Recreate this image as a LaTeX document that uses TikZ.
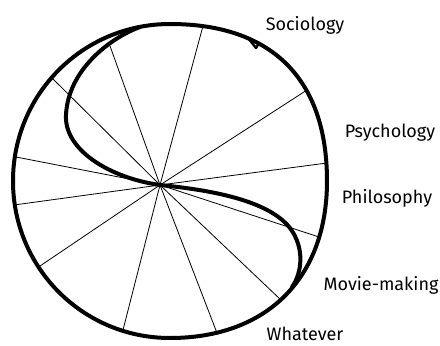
\documentclass[tikz,border=0pt]{standalone}
\usepackage{fontspec}
\setsansfont{Fira Sans}
\tikzset{
  rim/.style={line width=4pt, line join=round, line cap=round},
  spoke/.style={line width=0.8pt},
  subject/.style={font=\sffamily\fontsize{18}{20}\selectfont, anchor=base, inner sep=0pt},
}
\begin{document}
\begin{tikzpicture}[x=1pt, y=-1pt]
  \useasboundingbox (0,0) rectangle (440,346);

  % Centre des rayons
  \coordinate (H) at (160,185);

  % Extrémités des 12 rayons
  \coordinate (S1) at (203,26);
  \coordinate (S2) at (110,46);
  \coordinate (S3) at (52,78);
  \coordinate (S4) at (16,157);
  \coordinate (S5) at (14,205);
  \coordinate (S6) at (40,266);
  \coordinate (S7) at (123,330);
  \coordinate (S8) at (217,333);
  \coordinate (S9) at (281,300);
  \coordinate (S10) at (319,237);
  \coordinate (S11) at (327,163);
  \coordinate (S12) at (307,90);

  % Rayons
  \draw[spoke] (H) -- (S1);
  \draw[spoke] (H) -- (S2);
  \draw[spoke] (H) -- (S3);
  \draw[spoke] (H) -- (S4);
  \draw[spoke] (H) -- (S5);
  \draw[spoke] (H) -- (S6);
  \draw[spoke] (H) -- (S7);
  \draw[spoke] (H) -- (S8);
  \draw[spoke] (H) -- (S9);
  \draw[spoke] (H) -- (S10);
  \draw[spoke] (H) -- (S11);
  \draw[spoke] (H) -- (S12);

  % Contour (cercle à main levée, un peu bombé à droite)
  \draw[rim] (170,24) .. controls (272,24) and (327,79) .. (327,181)
      .. controls (327,278) and (267,338) .. (170,338)
      .. controls (83,338) and (13,268) .. (13,181)
      .. controls (13,94) and (83,24) .. cycle;
  \draw[line width=2.4pt, line join=round] (248,38) -- (256,48) -- (259,43);

  % Courbe en S
  \coordinate (T1) at (140,27);
  \coordinate (T2) at (292,287);
  \draw[rim] (T1) .. controls (110,38) and (68,70) .. (66,115)
      .. controls (64,150) and (110,178) .. (H)
      .. controls (210,190) and (268,200) .. (290,228)
      .. controls (305,248) and (302,273) .. (T2);

  % Étiquettes
  \node[subject] (soc) at (305,30) {Sociology};
  \node[subject] (psy) at (390,137) {Psychology};
  \node[subject] (phi) at (387,203) {Philosophy};
  \node[subject] (mov) at (381,290) {Movie-making};
  \node[subject] (wha) at (305,340) {Whatever};
\end{tikzpicture}
\end{document}
